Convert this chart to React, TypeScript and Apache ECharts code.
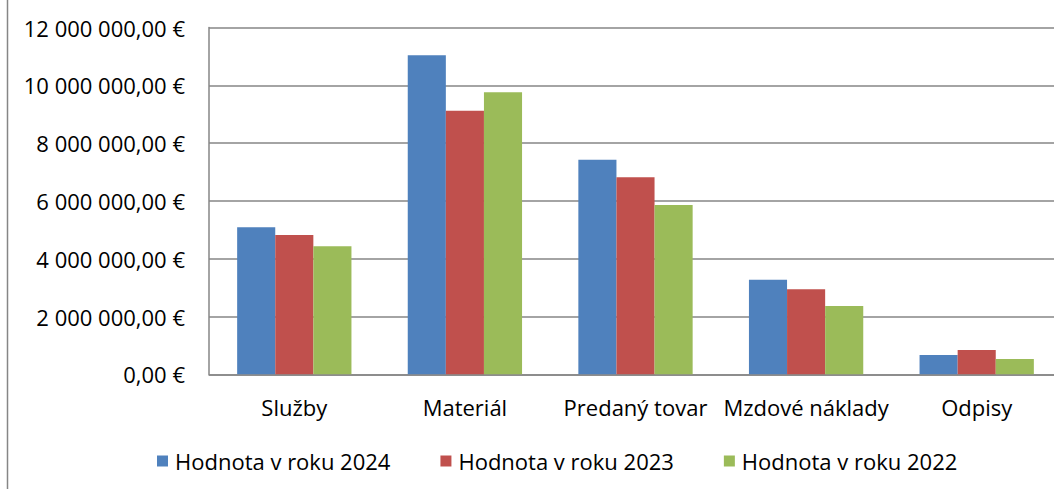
import React, { useEffect, useRef } from "react";
import * as echarts from "echarts";

const categories = ["Služby", "Materiál", "Predaný tovar", "Mzdové náklady", "Odpisy"];
const seriesNames = ["Hodnota v roku 2024", "Hodnota v roku 2023", "Hodnota v roku 2022"];
const values2024 = [5090000, 11040000, 7420000, 3270000, 670000];
const values2023 = [4820000, 9120000, 6820000, 2940000, 840000];
const values2022 = [4430000, 9760000, 5860000, 2360000, 530000];
const colors = ["#4F81BD", "#C0504D", "#9BBB59"];

const FONT = "'Open Sans', 'Noto Sans', sans-serif";

function formatEuro(v: number): string {
  const s = Math.round(v).toString();
  const withSpaces = s.replace(/\B(?=(\d{3})+(?!\d))/g, " ");
  return withSpaces + ",00 €";
}

export default function App() {
  const ref = useRef<HTMLDivElement>(null);
  useEffect(() => {
    if (!ref.current) return;
    const chart = echarts.init(ref.current, null, { renderer: "svg" });
    const allValues = [values2024, values2023, values2022];
    chart.setOption({
      animation: false,
      backgroundColor: "#ffffff",
      textStyle: { fontFamily: FONT },
      grid: { left: 209, top: 27.5, width: 853, height: 346.8, containLabel: false },
      legend: {
        left: 152,
        top: 442,
        itemWidth: 11,
        itemHeight: 11,
        itemGap: 50,
        icon: "rect",
        textStyle: { fontFamily: FONT, fontSize: 22, color: "#000", lineHeight: 28, padding: [0, 0, 0, 2] },
        data: seriesNames,
      },
      xAxis: {
        type: "category",
        data: categories,
        axisLine: { lineStyle: { color: "#868686", width: 1.5 } },
        axisTick: { show: false },
        axisLabel: { color: "#000", fontSize: 22, fontFamily: FONT, margin: 20, lineHeight: 26, interval: 0 },
      },
      yAxis: {
        type: "value",
        min: 0,
        max: 12000000,
        interval: 2000000,
        axisLine: { show: true, lineStyle: { color: "#868686", width: 1.5 } },
        axisTick: { show: false },
        splitLine: { lineStyle: { color: "#868686", width: 1.5 } },
        axisLabel: {
          color: "#000",
          fontSize: 22,
          fontFamily: FONT,
          margin: 24,
          formatter: (v: number) => formatEuro(v),
        },
      },
      series: seriesNames.map((name, i) => ({
        name,
        type: "bar",
        data: allValues[i],
        barGap: "0%",
        barCategoryGap: "33%",
        itemStyle: { color: colors[i] },
      })),
      graphic: [
        {
          type: "line",
          shape: { x1: 7.5, y1: 0, x2: 7.5, y2: 489 },
          style: { stroke: "#868686", lineWidth: 1.5 },
        },
      ],
    });
    return () => chart.dispose();
  }, []);
  return (
    <div style={{ position: "fixed", left: 0, top: 0, width: 1054, height: 489, overflow: "hidden" }}>
      <div ref={ref} style={{ width: 1070, height: 489 }} />
    </div>
  );
}
